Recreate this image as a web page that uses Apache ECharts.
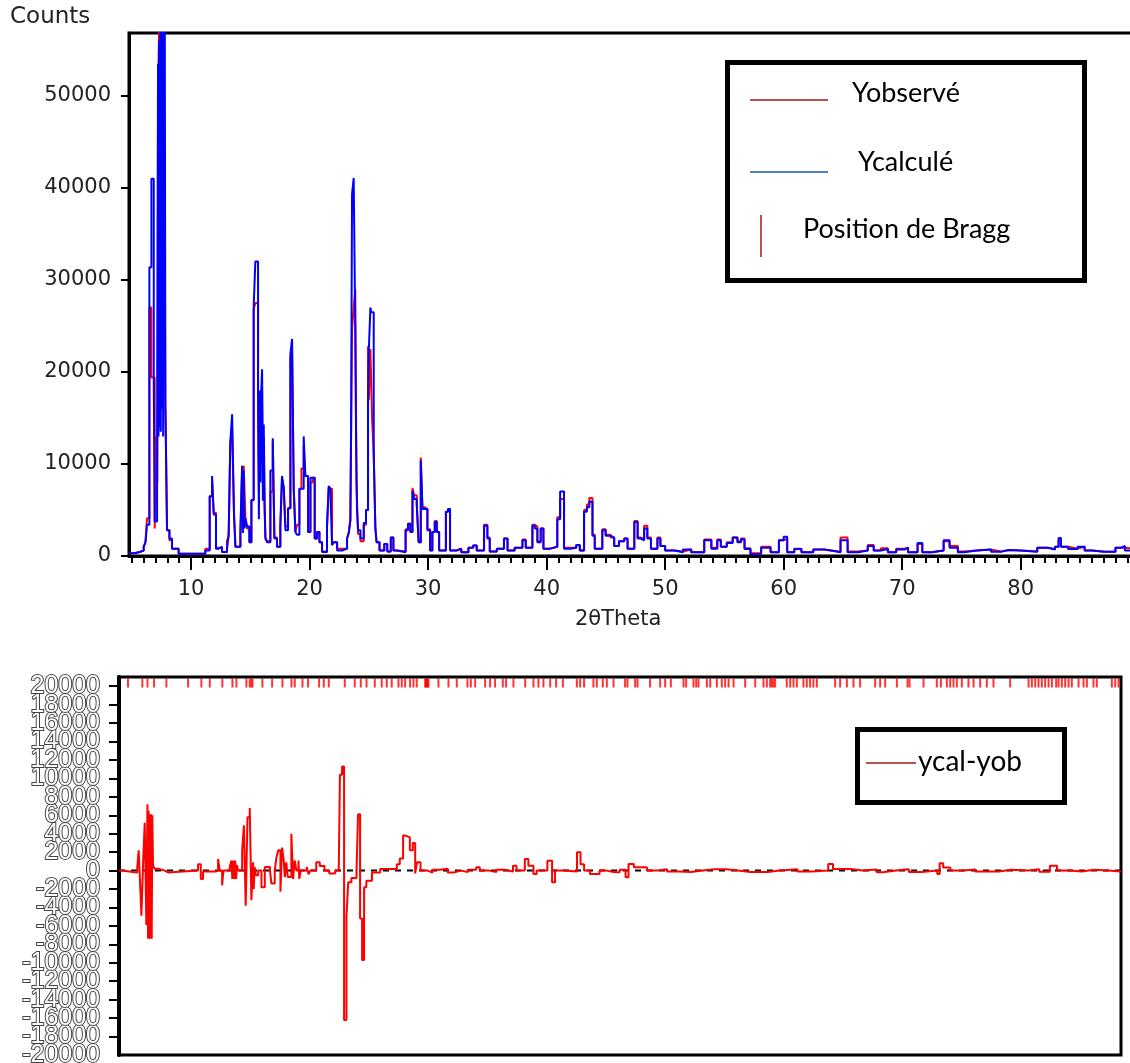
<!DOCTYPE html>
<html>
<head>
<meta charset="utf-8">
<title>Rietveld</title>
<script src="https://cdn.jsdelivr.net/npm/echarts@6/dist/echarts.min.js"></script>
<style>
  html, body { margin: 0; padding: 0; background: #fff; }
  #main { width: 1130px; height: 1063px; }
</style>
</head>
<body>
<div id="main"></div>
<script>
var majorTicks = [10, 20, 30, 40, 50, 60, 70, 80];

var calcPoints = [
  [4.76, 300], [5.2, 400], [5.58, 600], [6.0, 1000], [6.15, 1500], [6.28, 3400],
  [6.48, 31400], [6.65, 41000], [6.85, 18800], [6.93, 3750], [7.13, 7800],
  [7.21, 53500], [7.25, 13000], [7.3, 56000], [7.34, 14000], [7.4, 57500], [7.44, 13500],
  [7.5, 57500], [7.54, 16000], [7.6, 57500], [7.64, 13000], [7.7, 57500], [7.75, 20000],
  [7.78, 57500], [7.83, 16500], [7.97, 2800], [8.17, 1900], [8.39, 800], [8.95, 250],
  [11.2, 600], [11.57, 6500], [11.77, 8700], [11.91, 4500], [12.1, 800], [12.33, 1000],
  [12.61, 430], [13.03, 700], [13.17, 2450], [13.31, 12400], [13.46, 15400], [13.62, 4500],
  [13.74, 1000], [14.16, 2600], [14.3, 9800], [14.37, 2500], [14.44, 9300], [14.51, 3000],
  [14.58, 4100], [14.72, 3200], [14.92, 1500], [15.09, 6100], [15.28, 27100], [15.42, 32000],
  [15.65, 17600], [15.72, 4000], [15.78, 18000], [15.85, 8000], [15.92, 18000], [15.99, 20300],
  [16.06, 6000], [16.13, 14300], [16.2, 6000], [16.27, 1900], [16.41, 1500], [16.69, 9300],
  [16.89, 12800], [17.03, 1900], [17.25, 1000], [17.53, 3400], [17.67, 8700], [17.82, 7400],
  [17.96, 2800], [18.18, 5200], [18.38, 22000], [18.52, 23600], [18.66, 7300], [18.8, 2600],
  [18.94, 2300], [19.14, 7300], [19.31, 7300], [19.5, 13000], [19.64, 8700], [19.87, 2600],
  [20.07, 8500], [20.26, 8500], [20.43, 1900], [20.63, 2600], [20.83, 1500], [21.05, 430],
  [21.47, 3200], [21.61, 7600], [21.75, 7300], [21.89, 1200], [22.03, 1500], [22.32, 600],
  [22.74, 800], [23.16, 1900], [23.3, 2500], [23.44, 3900], [23.5, 14000], [23.58, 39300],
  [23.72, 41100], [23.85, 25000], [23.92, 13100], [24.0, 5000], [24.09, 2800], [24.29, 1900],
  [24.57, 3600], [24.76, 5000], [24.93, 17000], [25.0, 22500], [25.13, 27000], [25.2, 26500],
  [25.41, 11100], [25.55, 3000], [25.65, 1500], [25.9, 600], [26.3, 1300], [26.55, 500],
  [26.85, 2000], [27.07, 600], [27.4, 430], [28.1, 2800], [28.3, 3500], [28.5, 2600],
  [28.68, 7100], [28.82, 6200], [29.04, 5500], [29.2, 1500], [29.38, 10400], [29.52, 5100],
  [29.72, 5100], [29.94, 2800], [30.17, 600], [30.36, 2600], [30.56, 3700], [30.73, 2600],
  [30.93, 600], [31.5, 4800], [31.68, 5100], [31.85, 600], [32.4, 800], [32.8, 400],
  [33.4, 900], [33.8, 1150], [34.1, 600], [34.72, 3300], [35.0, 1900], [35.2, 500],
  [35.8, 800], [36.4, 1900], [36.7, 600], [37.3, 900], [37.96, 1700], [38.24, 900],
  [38.8, 3300], [39.0, 3000], [39.22, 1500], [39.5, 3000], [39.73, 800], [40.3, 1000],
  [40.9, 4000], [41.14, 7000], [41.47, 800], [42.0, 900], [42.5, 1200], [42.8, 600],
  [43.16, 4800], [43.4, 5300], [43.6, 5900], [43.87, 2200], [44.06, 800], [44.7, 2800],
  [44.98, 2200], [45.4, 2000], [45.7, 1100], [46.1, 1600], [46.55, 1900], [46.83, 800],
  [47.4, 3700], [47.68, 1900], [47.96, 1700], [48.23, 3000], [48.5, 1900], [48.8, 800],
  [49.35, 1900], [49.6, 1100], [50.0, 600], [50.8, 400], [51.5, 700], [52.2, 400],
  [53.3, 1700], [53.9, 800], [54.4, 1700], [54.7, 1000], [55.2, 1400], [55.7, 2000],
  [56.1, 1500], [56.4, 1800], [56.7, 750], [57.2, 200], [58.1, 900], [58.9, 400],
  [59.6, 1700], [60.0, 2100], [60.3, 400], [60.9, 750], [61.5, 400], [62.5, 700],
  [63.4, 600], [64.0, 400], [64.8, 1700], [65.4, 400], [66.3, 600], [67.1, 1100],
  [67.6, 600], [68.2, 750], [68.8, 400], [69.5, 700], [70.2, 900], [70.5, 400],
  [71.3, 1400], [71.7, 400], [72.5, 600], [73.5, 1700], [74.0, 900], [74.7, 400],
  [75.2, 600], [76.3, 700], [77.5, 450], [78.3, 650], [79.0, 600], [80.0, 450],
  [81.4, 900], [82.3, 700], [82.9, 1000], [83.2, 1950], [83.4, 1000], [84.0, 750],
  [84.8, 1000], [85.4, 600], [86.0, 450], [87.0, 450], [88.0, 900], [88.5, 1100],
  [88.8, 600], [90.1, 500]
];

var obsPoints = [
  [4.76, 300], [5.2, 400], [5.58, 600], [6.0, 1000], [6.15, 1500], [6.28, 4100],
  [6.48, 27000], [6.65, 19400], [6.93, 3000], [7.05, 13000], [7.15, 8000], [7.21, 50000],
  [7.3, 57500], [7.45, 50000], [7.55, 57500], [7.7, 52000], [7.83, 16500], [7.97, 2800],
  [8.17, 1700], [8.39, 800], [8.95, 250], [11.2, 800], [11.57, 6500], [11.77, 8000],
  [11.91, 4700], [12.1, 900], [12.33, 900], [12.61, 430], [13.03, 1700], [13.17, 2000],
  [13.31, 12400], [13.46, 13800], [13.62, 4600], [13.74, 1000], [14.16, 2600], [14.3, 9000],
  [14.44, 9800], [14.58, 4200], [14.72, 3000], [14.92, 1500], [15.09, 6100], [15.28, 26800],
  [15.42, 27500], [15.65, 16500], [15.72, 7000], [15.78, 17600], [15.85, 10000], [15.92, 17000],
  [15.99, 18000], [16.06, 8000], [16.13, 13000], [16.2, 5000], [16.27, 2000], [16.41, 1600],
  [16.69, 7000], [16.89, 12500], [17.03, 2000], [17.25, 1000], [17.53, 3000], [17.67, 8300],
  [17.82, 7400], [17.96, 3200], [18.18, 5200], [18.38, 21500], [18.52, 22500], [18.66, 7300],
  [18.8, 2600], [18.94, 3400], [19.14, 7300], [19.31, 9500], [19.5, 12000], [19.64, 8700],
  [19.87, 2600], [20.07, 8000], [20.26, 8500], [20.43, 1900], [20.63, 2600], [20.83, 1500],
  [21.05, 500], [21.47, 3200], [21.61, 7400], [21.75, 7300], [21.89, 1200], [22.03, 1500],
  [22.32, 800], [22.74, 800], [23.16, 1900], [23.3, 2500], [23.44, 3900], [23.58, 24700],
  [23.72, 27000], [23.85, 29000], [23.95, 8000], [24.09, 2400], [24.29, 1600], [24.57, 3400],
  [24.76, 5000], [24.93, 22800], [25.0, 17000], [25.13, 22500], [25.27, 15000], [25.41, 11100],
  [25.55, 3000], [25.65, 1500], [25.9, 600], [26.3, 1300], [26.55, 500], [26.85, 2000],
  [27.07, 600], [27.4, 430], [28.1, 2900], [28.3, 3500], [28.5, 2600], [28.68, 7400],
  [28.82, 6600], [29.04, 5700], [29.2, 1500], [29.38, 10700], [29.52, 5300], [29.72, 5100],
  [29.94, 2900], [30.17, 600], [30.36, 2600], [30.56, 3800], [30.73, 2600], [30.93, 600],
  [31.5, 4800], [31.68, 5100], [31.85, 600], [32.4, 800], [32.8, 400], [33.4, 900],
  [33.8, 1150], [34.1, 600], [34.72, 3400], [35.0, 2000], [35.2, 500], [35.8, 800],
  [36.4, 1900], [36.7, 600], [37.3, 900], [37.96, 1800], [38.24, 900], [38.8, 3400],
  [39.0, 3200], [39.22, 1600], [39.5, 3000], [39.73, 800], [40.3, 1000], [40.9, 4200],
  [41.14, 6200], [41.47, 900], [42.0, 900], [42.5, 1200], [42.8, 600], [43.16, 5000],
  [43.4, 5600], [43.6, 6300], [43.87, 2300], [44.06, 800], [44.7, 2900], [44.98, 2300],
  [45.4, 2000], [45.7, 1100], [46.1, 1600], [46.55, 1900], [46.83, 800], [47.4, 3800],
  [47.68, 2000], [47.96, 1800], [48.23, 3300], [48.5, 2000], [48.8, 800], [49.35, 2000],
  [49.6, 1100], [50.0, 600], [50.8, 500], [51.5, 700], [52.2, 400], [53.3, 1800],
  [53.9, 900], [54.4, 1800], [54.7, 1000], [55.2, 1500], [55.7, 2000], [56.1, 1600],
  [56.4, 1900], [56.7, 850], [57.2, 300], [58.1, 1000], [58.9, 400], [59.6, 1700],
  [60.0, 1900], [60.3, 400], [60.9, 800], [61.5, 400], [62.5, 700], [63.4, 600],
  [64.0, 450], [64.8, 2000], [65.4, 500], [66.3, 600], [67.1, 1200], [67.6, 600],
  [68.2, 850], [68.8, 400], [69.5, 800], [70.2, 900], [70.5, 400], [71.3, 1300],
  [71.7, 400], [72.5, 600], [73.5, 1600], [74.0, 1100], [74.7, 500], [75.2, 600],
  [76.3, 700], [77.5, 500], [78.3, 650], [79.0, 600], [80.0, 500], [81.4, 900],
  [82.3, 750], [82.9, 1000], [83.2, 1700], [83.4, 1000], [84.0, 800], [84.8, 1000],
  [85.4, 600], [86.0, 500], [87.0, 450], [88.0, 900], [88.5, 900], [88.8, 700], [90.1, 500]
];

var diffPoints = [
  [4.76, 0], [5.0, -180], [6.09, -200], [6.3, 360], [6.42, 2200], [6.53, -1100],
  [6.65, -4900], [6.79, 700], [6.93, 5200], [7.07, -5900], [7.16, 7200], [7.21, -7400],
  [7.26, 6500], [7.31, -7400], [7.36, 6100], [7.41, -7400], [7.47, 6100], [7.52, -7400],
  [7.57, 6000], [7.63, 500], [7.77, 200], [8.06, 0], [8.62, -200], [8.9, 0],
  [11.43, 700], [11.66, -900], [11.85, -100], [12.9, 0], [13.12, 1250], [13.26, 0],
  [13.46, -1600], [13.57, 0], [14.1, 400], [14.25, 1100], [14.32, -900], [14.4, 1100],
  [14.48, -900], [14.56, 1100], [14.64, -900], [14.72, 600], [14.8, 0], [15.15, 2200],
  [15.3, 4900], [15.45, -3800], [15.6, 5800], [15.79, 6800], [15.93, -3200], [16.07, 900],
  [16.13, -2000], [16.2, 400], [16.3, -500], [16.5, 0], [16.78, -1800], [17.06, 400],
  [17.5, 0], [17.62, -1400], [17.9, 0], [18.04, 1400], [18.2, 2200], [18.38, -2300],
  [18.52, 2500], [18.66, 1100], [18.75, -700], [18.87, 900], [19.0, -700], [19.3, 4000],
  [19.45, -900], [19.58, 1100], [19.73, 0], [19.9, 1100], [19.97, -900], [20.1, 0],
  [20.6, 400], [20.75, -400], [20.9, 0], [21.4, 900], [21.7, 500], [22.1, 0],
  [22.5, -300], [23.0, 0], [23.3, 200], [23.4, 10400], [23.58, 11300], [23.75, -16200],
  [23.95, -5000], [24.1, -1260], [24.37, -800], [24.8, 0], [24.93, 6100], [25.1, -5200],
  [25.27, -9700], [25.44, -1800], [25.63, -1100], [26.1, -200], [26.8, 180], [28.2, 700],
  [28.45, 1300], [28.73, 3800], [28.93, 3600], [29.3, 2200], [29.55, 3000], [29.75, -300],
  [29.9, 900], [30.2, 0], [30.8, -200], [31.2, 100], [31.8, 200], [32.5, -200],
  [33.0, 0], [33.6, -150], [34.2, 100], [34.9, 360], [35.2, 0], [36.0, -150],
  [36.6, 100], [37.3, -100], [38.0, 540], [38.3, 0], [39.0, 1260], [39.3, 540],
  [39.73, -360], [40.0, 0], [40.9, 1080], [41.3, -1260], [41.55, 0], [42.3, -100],
  [43.4, 1980], [43.7, 700], [44.0, 0], [44.5, -360], [45.3, 0], [45.9, -150],
  [46.5, -180], [47.0, 100], [47.5, -720], [47.75, 720], [48.2, 360], [49.3, 0],
  [50.2, 150], [51.0, -100], [52.0, -150], [53.0, 0], [54.0, 150], [55.0, 150],
  [56.0, 0], [57.0, -150], [58.0, -150], [59.5, 0], [60.5, 150], [62.0, -100],
  [63.2, 0], [64.6, 720], [65.0, 180], [66.5, 0], [67.5, 120], [68.7, -180],
  [69.2, 0], [70.3, 150], [71.4, -150], [72.5, 0], [73.8, -360], [74.0, 800],
  [74.3, 350], [74.9, 0], [76.0, 120], [77.0, -100], [78.0, -100], [79.0, 100],
  [80.0, 0], [81.5, 150], [82.4, -120], [83.3, 540], [83.9, 0], [85.0, -100],
  [86.0, 100], [87.0, 0], [88.2, -100], [89.3, -70]
];

var braggPositions = [
  5.52, 6.73, 7.16, 7.72, 8.76, 10.59, 11.71, 12.42, 13.48, 14.33, 14.67, 15.51, 15.79,
  15.93, 16.02, 16.86, 17.68, 18.55, 19.31, 19.59, 20.24, 20.71, 21.64, 22.04, 22.46,
  23.81, 24.65, 25.16, 25.64, 26.34, 26.93, 27.35, 27.77, 28.34, 28.62, 28.9, 29.32,
  29.6, 29.88, 30.59, 30.66, 30.73, 30.8, 30.87, 31.71, 32.56, 33.26, 34.16, 34.44,
  34.81, 35.65, 36.07, 36.49, 37.14, 37.42, 38.04, 39.03, 39.73, 40.15, 40.57, 41.14,
  41.64, 42.21, 43.39, 43.67, 44.0, 44.79, 45.07, 45.58, 45.92, 46.48, 47.46, 47.66,
  48.31, 48.51, 49.57, 50.42, 50.84, 51.32, 52.39, 52.61, 53.23, 53.46, 53.65, 54.36,
  54.64, 55.2, 55.62, 55.9, 56.19, 56.61, 57.59, 58.44, 59.14, 59.42, 59.7, 59.84,
  59.98, 60.12, 61.1, 61.39, 61.67, 61.95, 62.51, 62.79, 63.07, 63.35, 63.64, 65.18,
  65.6, 66.17, 66.73, 67.29, 68.56, 68.98, 69.4, 70.39, 71.29, 71.46, 72.64, 73.76,
  74.1, 74.61, 74.89, 75.17, 75.45, 75.87, 76.43, 76.86, 77.42, 77.98, 78.54, 79.95,
  81.5, 81.78, 82.06, 82.34, 82.62, 82.9, 83.19, 83.47, 83.83, 84.03, 84.31, 84.59,
  84.87, 85.15, 85.72, 86.14, 86.42, 86.98, 87.26, 88.53, 88.81, 89.09
];

var minorTicks = [];
for (var t = 5; t <= 90; t++) minorTicks.push(t);

var dom = document.getElementById('main');
var myChart = echarts.init(dom, null, { renderer: 'canvas' });

var labelFont = 'DejaVu Sans';
var diffLabel = {
  fontSize: 25, fontFamily: 'Liberation Sans, sans-serif',
  color: '#fff', textBorderColor: '#444', textBorderWidth: 2, margin: 19,
  formatter: function (v) { return String(v); }
};

var option = {
  animation: false,
  backgroundColor: '#fff',
  grid: [
    { left: 129, top: 33, right: -10, height: 523, show: true, borderColor: '#000', borderWidth: 3, outerBoundsMode: 'none' },
    { left: 119, top: 677, right: 9, height: 378, show: true, borderColor: '#000', borderWidth: 3, outerBoundsMode: 'none' }
  ],
  xAxis: [
    {
      type: 'value', gridIndex: 0, min: 4.76, max: 90.07,
      axisLine: { lineStyle: { color: '#000', width: 3 } },
      axisTick: { customValues: majorTicks, length: 14, lineStyle: { color: '#000', width: 2 } },
      axisLabel: { customValues: majorTicks, fontSize: 21, fontFamily: labelFont, color: '#222', margin: 23 },
      splitLine: { show: false }
    },
    {
      type: 'value', gridIndex: 0, min: 4.76, max: 90.07, position: 'bottom',
      axisLine: { show: false },
      axisTick: { customValues: minorTicks, length: 7, lineStyle: { color: '#000', width: 2 } },
      axisLabel: { show: false },
      splitLine: { show: false }
    },
    {
      type: 'value', gridIndex: 1, min: 4.76, max: 89.3,
      axisLine: { show: false }, axisTick: { show: false }, axisLabel: { show: false },
      splitLine: { show: false }
    }
  ],
  yAxis: [
    {
      type: 'value', gridIndex: 0, min: 0, max: 56850, interval: 10000,
      axisLine: { show: true, lineStyle: { color: '#000', width: 3 } },
      axisTick: { show: true, length: 8, lineStyle: { color: '#000', width: 2 } },
      axisLabel: {
        fontSize: 21, fontFamily: labelFont, color: '#222', margin: 18, showMaxLabel: false,
        formatter: function (v) { return String(v); }
      },
      splitLine: { show: false }
    },
    {
      type: 'value', gridIndex: 1, min: -20000, max: 21000, interval: 2000,
      axisLine: { show: true, lineStyle: { color: '#000', width: 4 } },
      axisTick: { show: true, length: 10, lineStyle: { color: '#000', width: 2 } },
      axisLabel: Object.assign({ showMaxLabel: false, showMinLabel: false }, diffLabel),
      splitLine: { show: false }
    },
    {
      // etiquette -20000 seule (sinon masquee par recouvrement)
      type: 'value', gridIndex: 1, min: -20000, max: 21000, position: 'left',
      axisLine: { show: false }, axisTick: { show: false }, splitLine: { show: false },
      axisLabel: Object.assign({ customValues: [-20000] }, diffLabel)
    }
  ],
  series: [
    {
      name: 'Yobservé', type: 'line', xAxisIndex: 0, yAxisIndex: 0, step: 'end',
      data: obsPoints, showSymbol: false, symbol: 'none', z: 2,
      lineStyle: { color: '#ff0000', width: 2 }
    },
    {
      name: 'Ycalculé', type: 'line', xAxisIndex: 0, yAxisIndex: 0, step: 'end',
      data: calcPoints, showSymbol: false, symbol: 'none', z: 3,
      lineStyle: { color: '#0000ff', width: 2 }
    },
    {
      name: 'zero', type: 'line', xAxisIndex: 2, yAxisIndex: 1,
      data: [[4.76, 0], [89.3, 0]], showSymbol: false, symbol: 'none', z: 1, silent: true,
      lineStyle: { color: '#000', width: 2, type: [6, 6] }
    },
    {
      name: 'ycal-yob', type: 'line', xAxisIndex: 2, yAxisIndex: 1, step: 'end',
      data: diffPoints, showSymbol: false, symbol: 'none', z: 2,
      lineStyle: { color: '#ff0000', width: 2 }
    },
    {
      name: 'Position de Bragg', type: 'scatter', xAxisIndex: 2, yAxisIndex: 1,
      data: braggPositions.map(function (p) { return [p, 20350]; }),
      symbol: 'rect', symbolSize: [2, 9], z: 4, silent: true,
      itemStyle: { color: '#ff0000' }
    }
  ],
  graphic: [
    { type: 'text', left: 10, top: 6, style: { text: 'Counts', font: '23px "DejaVu Sans"', fill: '#222' } },
    { type: 'text', left: 575, top: 609, style: { text: '2θTheta', font: '21px "DejaVu Sans"', fill: '#222' } },
    // legende du haut
    { type: 'rect', shape: { x: 727.5, y: 62.5, width: 357, height: 218 }, style: { fill: '#fff', stroke: '#000', lineWidth: 5 }, z: 10 },
    { type: 'line', shape: { x1: 750, y1: 100, x2: 828, y2: 100 }, style: { stroke: '#c0504d', lineWidth: 2 }, z: 11 },
    { type: 'text', x: 852, y: 93, style: { text: 'Yobservé', font: '27px Lato', fill: '#000', verticalAlign: 'middle' }, z: 11 },
    { type: 'line', shape: { x1: 750, y1: 172, x2: 828, y2: 172 }, style: { stroke: '#4f81bd', lineWidth: 2 }, z: 11 },
    { type: 'text', x: 858, y: 162, style: { text: 'Ycalculé', font: '27px Lato', fill: '#000', verticalAlign: 'middle' }, z: 11 },
    { type: 'line', shape: { x1: 761, y1: 215, x2: 761, y2: 257 }, style: { stroke: '#c0504d', lineWidth: 2 }, z: 11 },
    { type: 'text', x: 803, y: 229, style: { text: 'Position de Bragg', font: '27px Lato', fill: '#000', verticalAlign: 'middle' }, z: 11 },
    // legende du bas
    { type: 'rect', shape: { x: 857.5, y: 729.5, width: 207, height: 73 }, style: { fill: '#fff', stroke: '#000', lineWidth: 5 }, z: 10 },
    { type: 'line', shape: { x1: 866, y1: 763, x2: 916, y2: 763 }, style: { stroke: '#c0504d', lineWidth: 2 }, z: 11 },
    { type: 'text', x: 918, y: 762, style: { text: 'ycal-yob', font: '28px Lato', fill: '#000', verticalAlign: 'middle' }, z: 11 }
  ]
};

myChart.setOption(option);
window.addEventListener('resize', myChart.resize);
</script>
</body>
</html>
